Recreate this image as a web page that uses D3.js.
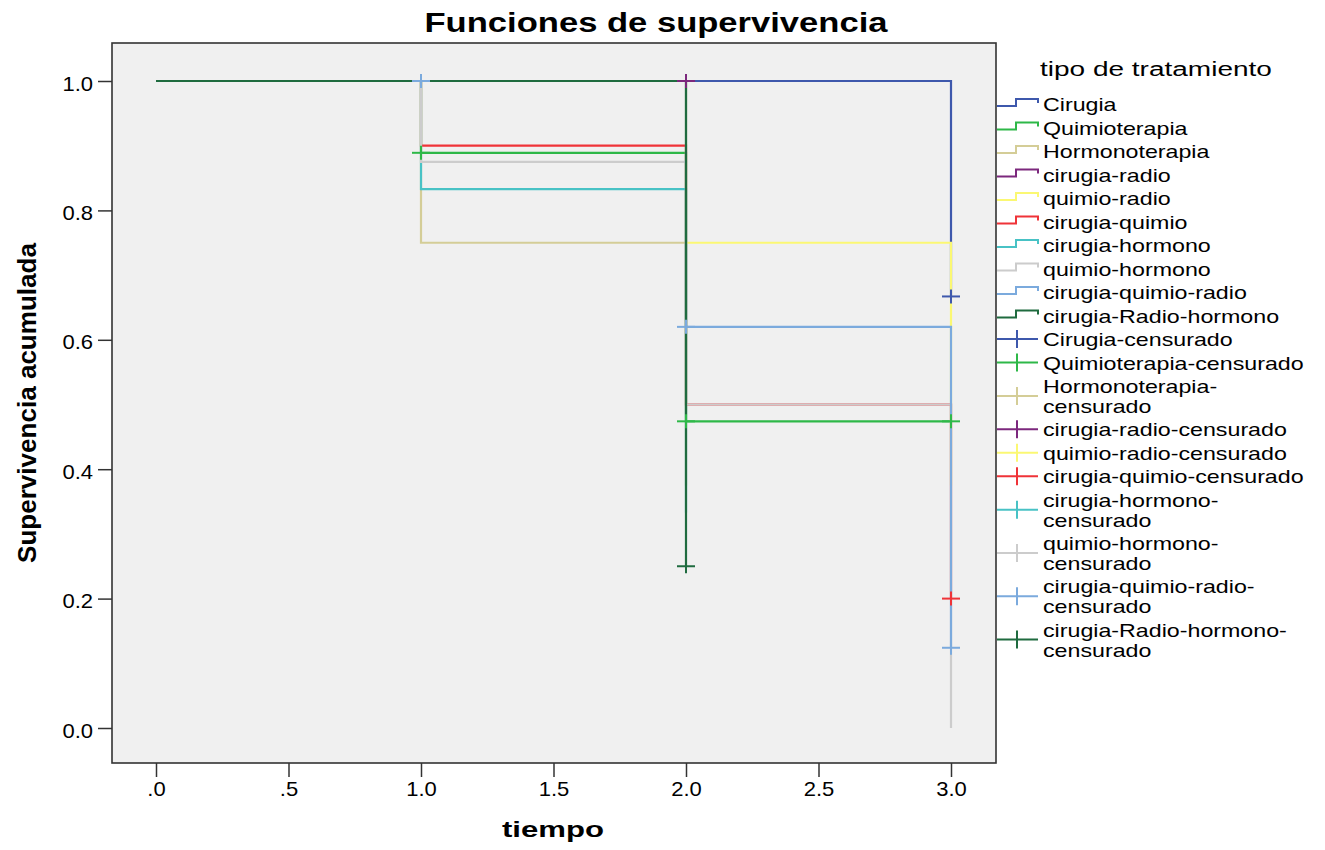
<!DOCTYPE html>
<html><head><meta charset="utf-8">
<script src="https://cdn.jsdelivr.net/npm/d3@7"></script>
<style>
body{margin:0;background:#fff}
svg{display:block}
text{font-family:"Liberation Sans",Arial,Helvetica,sans-serif;fill:#000}
</style>
</head><body>
<svg id="chart" width="1325" height="850"></svg>
<script>
// ---------- data ----------
const groups = ["Cirugia","Quimioterapia","Hormonoterapia","cirugia-radio","quimio-radio",
  "cirugia-quimio","cirugia-hormono","quimio-hormono","cirugia-quimio-radio","cirugia-Radio-hormono"];
const times = [0, 1, 2, 3];
// cumulative survival at each time (null = curve has ended)
const survCirugia            = [1, 1,     1,     0.667];
const survQuimioterapia      = [1, 0.889, 0.474, 0.474];
const survHormonoterapia     = [1, 0.75,  0.375, null];
const survCirugiaRadio       = [1, 1,     1,     null];
const survQuimioRadio        = [1, 1,     0.75,  0.375];
const survCirugiaQuimio      = [1, 0.9,   0.5,   0.2];
const survCirugiaHormono     = [1, 0.833, 0.333, null];
const survQuimioHormono      = [1, 0.875, 0.5,   0];
const survCirugiaQuimioRadio = [1, 1,     0.62,  0.124];
const survCirugiaRadioHorm   = [1, 1,     0.25,  null];
const survival = [survCirugia, survQuimioterapia, survHormonoterapia, survCirugiaRadio, survQuimioRadio,
  survCirugiaQuimio, survCirugiaHormono, survQuimioHormono, survCirugiaQuimioRadio, survCirugiaRadioHorm];
// censored observations
const censorGroup = [8, 1, 1, 3, 9, 8, 0, 1, 5, 8];
const censorTime  = [1, 1, 2, 2, 2, 2, 3, 3, 3, 3];
const censorSurv  = [1, 0.889, 0.474, 1, 0.25, 0.62, 0.667, 0.474, 0.2, 0.124];
// ticks
const xTickValues = [0, 0.5, 1, 1.5, 2, 2.5, 3];
const xTickLabels = [".0", ".5", "1.0", "1.5", "2.0", "2.5", "3.0"];
const yTickValues = [0, 0.2, 0.4, 0.6, 0.8, 1.0];
const yTickLabels = ["0.0", "0.2", "0.4", "0.6", "0.8", "1.0"];
const censorSuffix = "-censurado";

// ---------- styles ----------
const palette = ["#3e58ac","#2eb848","#d4cd97","#7c287d","#fbf873","#ef3338","#48c2c5","#cccccc","#7baadd","#1f6b3f"];

// ---------- layout ----------
const svg = d3.select("#chart");
const frame = {left:112, top:43, right:996, bottom:763};
const x = d3.scaleLinear().domain([0, 3]).range([156, 951]);
const y = d3.scaleLinear().domain([0, 1]).range([728, 81]);

svg.append("rect").attr("x", frame.left).attr("y", frame.top)
  .attr("width", frame.right - frame.left).attr("height", frame.bottom - frame.top)
  .attr("fill", "#f0f0f0").attr("stroke", "#333").attr("stroke-width", 1.6);

// axes
const xAxis = d3.axisBottom(x).tickValues(xTickValues).tickFormat((d, i) => xTickLabels[i])
  .tickSize(14).tickPadding(5).tickSizeOuter(0);
const gx = svg.append("g").attr("transform", `translate(0,${frame.bottom})`).call(xAxis);
gx.select(".domain").remove();
gx.selectAll(".tick line").attr("stroke", "#333").attr("stroke-width", 1.5);
gx.selectAll(".tick text").attr("font-size", 20).attr("font-family", null).attr("fill", "#111")
  .each(function(){ const t = d3.select(this); const yy = +t.attr("y");
    t.attr("transform", `translate(0,${yy}) scale(1.1,1)`).attr("y", 0); });

const yAxis = d3.axisLeft(y).tickValues(yTickValues).tickFormat((d, i) => yTickLabels[i])
  .tickSize(14).tickPadding(5).tickSizeOuter(0);
const gy = svg.append("g").attr("transform", `translate(${frame.left},0)`).call(yAxis);
gy.select(".domain").remove();
gy.selectAll(".tick line").attr("stroke", "#333").attr("stroke-width", 1.5);
gy.selectAll(".tick text").attr("font-size", 20).attr("font-family", null).attr("fill", "#111")
  .attr("dy", "0.45em")
  .each(function(){ const t = d3.select(this); const xx = +t.attr("x");
    t.attr("transform", `translate(${xx},0) scale(1.1,1)`).attr("x", 0); });

// titles
svg.append("text").attr("x", 656).attr("y", 32).attr("text-anchor", "middle")
  .attr("font-size", 28).attr("font-weight", "bold")
  .attr("textLength", 463).attr("lengthAdjust", "spacingAndGlyphs")
  .text("Funciones de supervivencia");
svg.append("text").attr("transform", "translate(36,403) rotate(-90)").attr("text-anchor", "middle")
  .attr("font-size", 26).attr("font-weight", "bold")
  .attr("textLength", 320).attr("lengthAdjust", "spacingAndGlyphs")
  .text("Supervivencia acumulada");
svg.append("text").attr("x", 553).attr("y", 837).attr("text-anchor", "middle")
  .attr("font-size", 22).attr("font-weight", "bold")
  .attr("textLength", 102).attr("lengthAdjust", "spacingAndGlyphs")
  .text("tiempo");

// survival step lines
const line = d3.line().x(d => x(d.t)).y(d => y(d.s)).curve(d3.curveStepAfter);
const plot = svg.append("g");
survival.forEach((arr, gi) => {
  const pts = times.map((t, i) => ({t, s: arr[i]})).filter(d => d.s !== null);
  plot.append("path").attr("d", line(pts)).attr("fill", "none")
    .attr("stroke", palette[gi]).attr("stroke-width", 2.2);
});
// censor marks
censorGroup.forEach((gi, i) => {
  const cx = x(censorTime[i]), cy = y(censorSurv[i]);
  const g = plot.append("g").attr("stroke", palette[gi]).attr("stroke-width", 2);
  g.append("line").attr("x1", cx - 9).attr("x2", cx + 9).attr("y1", cy).attr("y2", cy);
  g.append("line").attr("x1", cx).attr("x2", cx).attr("y1", cy - 7).attr("y2", cy + 7);
});

// legend
const leg = svg.append("g");
leg.append("text").attr("transform", "translate(1040,76) scale(1.4,1)")
  .attr("font-size", 20).text("tipo de tratamiento");

const legScale = 1.29, legFont = 18, lineGap = 19.8, entryGap = 23.5, maxW = 272;
let baseline = 111;
const entries = groups.map((g, i) => ({label: g, gi: i, censor: false}))
  .concat(groups.map((g, i) => ({label: g + censorSuffix, gi: i, censor: true})));
entries.forEach((e, k) => {
  if (k > 0) baseline += entryGap;
  const probe = leg.append("text").attr("font-size", legFont).text(e.label);
  const w = probe.node().getComputedTextLength() * legScale;
  probe.remove();
  let lines = [e.label];
  if (w > maxW) {
    const cut = e.label.lastIndexOf("-");
    lines = [e.label.slice(0, cut + 1), e.label.slice(cut + 1)];
  }
  const firstBase = baseline;
  lines.forEach((ln, j) => {
    if (j > 0) baseline += lineGap;
    leg.append("text").attr("transform", `translate(1043,${baseline}) scale(${legScale},1)`)
      .attr("font-size", legFont).text(ln);
  });
  const midBase = (firstBase + baseline) / 2;
  const col = palette[e.gi];
  if (!e.censor) {
    const lo = midBase - 5, hi = midBase - 12, dr = midBase - 8;
    leg.append("path").attr("d", `M997,${lo}H1016V${hi}H1038V${dr}`)
      .attr("fill", "none").attr("stroke", col).attr("stroke-width", 2);
  } else {
    const cy = midBase - 7;
    leg.append("line").attr("x1", 997).attr("x2", 1038).attr("y1", cy).attr("y2", cy)
      .attr("stroke", col).attr("stroke-width", 2);
    leg.append("line").attr("x1", 1017).attr("x2", 1017).attr("y1", cy - 9).attr("y2", cy + 9)
      .attr("stroke", col).attr("stroke-width", 2);
  }
});
</script>
</body></html>
